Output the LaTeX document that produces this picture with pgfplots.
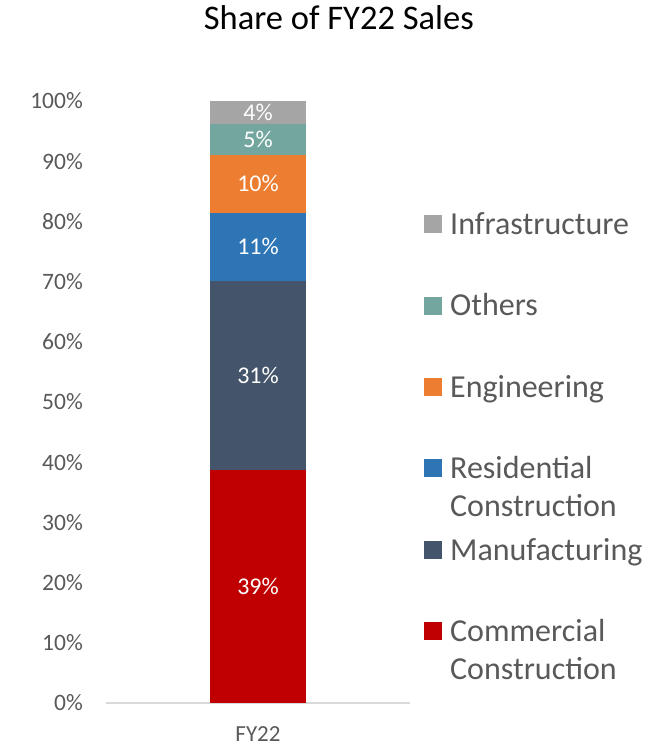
\documentclass[border=0pt]{standalone}
\usepackage{pgfplots}
\pgfplotsset{compat=1.18}
\usepackage{pgfplotstable}
\usepackage{fontspec}
\setmainfont{Carlito}
\definecolor{cCom}{HTML}{C00000}
\definecolor{cMan}{HTML}{44546A}
\definecolor{cRes}{HTML}{2E75B6}
\definecolor{cEng}{HTML}{ED7D31}
\definecolor{cOth}{HTML}{72A69F}
\definecolor{cInf}{HTML}{A5A5A5}
\definecolor{txtgray}{HTML}{595959}
\definecolor{axgray}{HTML}{D9D9D9}
\pgfplotstableread{
x com man res eng oth inf
0 38.7 31.4 11.35 9.6 5.2 3.75
}\data
\pgfplotsset{
  seg/.style={
    fill=#1, draw=none,
    nodes near coords={\pgfmathprintnumber[fixed,precision=0]{\pgfplotspointmeta}\%},
    every node near coord/.append style={anchor=center, text=white,
      font=\fontsize{24}{28}\selectfont},
  }
}
\begin{document}
\begin{tikzpicture}
\begin{axis}[
  scale only axis,
  width=304pt, height=602pt,
  ybar stacked,
  bar width=96pt,
  xmin=-0.5, xmax=0.5,
  ymin=0, ymax=100,
  ytick={0,10,...,100},
  xtick={0}, xticklabels={FY22},
  yticklabel={\pgfmathprintnumber{\tick}\%},
  /pgf/number format/assume math mode=true,
  axis lines*=left,
  y axis line style={draw=none},
  x axis line style={draw=axgray, line width=1.5pt, -},
  major tick length=0pt,
  yticklabel style={anchor=east, inner sep=0pt, xshift=-23pt, text=txtgray, font=\fontsize{23.5}{27}\selectfont},
  xticklabel style={anchor=north, inner sep=0pt, yshift=-23pt, text=txtgray, font=\fontsize{23}{27}\selectfont},
  title={Share of FY22 Sales},
  title style={at={(axis description cs:0.766,1.108)}, anchor=base, font=\fontsize{34.5}{40}\selectfont, text=black},
  reverse legend,
  legend image code/.code={\path[#1] (0pt,-9pt) rectangle (18pt,9pt);},
  legend style={draw=none, fill=none, inner sep=0pt,
    at={(axis description cs:1.046,0.815)}, anchor=north west,
    font=\fontsize{32}{38}\selectfont, text=txtgray,
    nodes={text height=22pt, text depth=1.4pt, inner sep=0pt, anchor=west},
    row sep=58pt,
    /tikz/every odd column/.append style={column sep=8pt},
    legend cell align=left},
]
\addplot+[seg=cCom] table[x=x, y=com, meta=com] {\data};
\addlegendentry{\begin{tabular}[t]{@{}l@{}}Commercial\\Construction\end{tabular}}
\addplot+[seg=cMan] table[x=x, y=man, meta=man] {\data};
\addlegendentry{Manufacturing}
\addplot+[seg=cRes] table[x=x, y=res, meta=res] {\data};
\addlegendentry{\begin{tabular}[t]{@{}l@{}}Residential\\Construction\end{tabular}}
\addplot+[seg=cEng] table[x=x, y=eng, meta=eng] {\data};
\addlegendentry{Engineering}
\addplot+[seg=cOth] table[x=x, y=oth, meta=oth] {\data};
\addlegendentry{Others}
\addplot+[seg=cInf] table[x=x, y=inf, meta=inf] {\data};
\addlegendentry{Infrastructure}
\end{axis}
\pgfresetboundingbox
\path[use as bounding box] (current axis.south west) ++(-106pt,-44pt) rectangle ++(669pt,747pt);
\end{tikzpicture}
\end{document}
